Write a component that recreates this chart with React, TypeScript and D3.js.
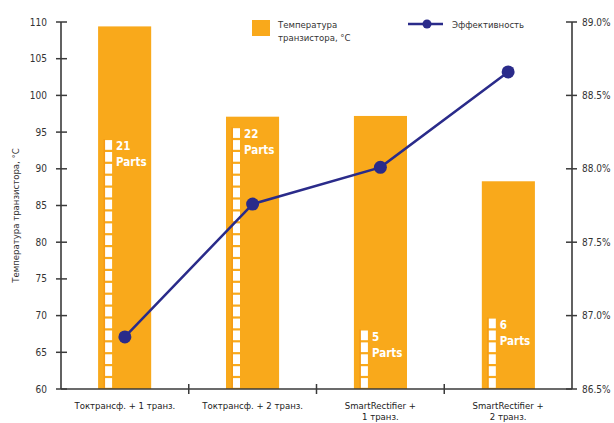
import React from "react";
import * as d3 from "d3";

const categories = [
  ["Токтрансф. + 1 транз."],
  ["Токтрансф. + 2 транз."],
  ["SmartRectifier +", "1 транз."],
  ["SmartRectifier +", "2 транз."],
];
const temperatures = [109.4, 97.1, 97.2, 88.3];
const efficiency = [86.855, 87.76, 88.01, 88.66];
const parts = [21, 22, 5, 6];
const leftTicks = [60, 65, 70, 75, 80, 85, 90, 95, 100, 105, 110];
const rightTicks = [86.5, 87.0, 87.5, 88.0, 88.5, 89.0];

const W = 614;
const H = 423;
const left = 61;
const right = 572;
const top = 22;
const bottom = 389;
const ORANGE = "#F9A91B";
const NAVY = "#2A2B8A";
const AXIS = "#3a3a3a";
const FONT = "'Liberation Sans Narrow', 'DejaVu Sans Condensed', 'Roboto Condensed', sans-serif";

export default function App() {
  const idx = categories.map((_, i) => String(i));
  const x = d3.scaleBand<string>().domain(idx).range([left, right]).paddingInner(0.585).paddingOuter(0.29);
  const band = d3.scaleBand<string>().domain(idx).range([left, right]);
  const yL = d3.scaleLinear().domain([60, 110]).range([bottom, top]);
  const yR = d3.scaleLinear().domain([86.5, 89.0]).range([bottom, top]);
  const partPx = 11.9;
  const line = d3
    .line<number>()
    .x((_, i) => (band(String(i)) as number) + band.bandwidth() / 2)
    .y((d) => yR(d));

  return (
    <svg width={W} height={H} style={{ position: "absolute", left: 0, top: 0, background: "#fff" }} fontFamily={FONT}>
      {/* bars */}
      {temperatures.map((t, i) => {
        const bx = x(String(i)) as number;
        const bw = x.bandwidth();
        const sx = bx + 7;
        const sw = 7;
        const stripH = parts[i] * partPx;
        const sTop = bottom - stripH;
        const squares = d3.range(parts[i]);
        return (
          <g key={i}>
            <rect x={bx} y={yL(t)} width={bw} height={bottom - yL(t)} fill={ORANGE} />
            <rect x={sx - 1.5} y={sTop} width={1.2} height={stripH} fill="#F08C10" opacity={0.6} />
            {squares.map((k) => (
              <rect key={k} x={sx} y={sTop + k * partPx + 1} width={sw} height={partPx - 2.2} fill="#fff" />
            ))}
            <text x={sx + sw + 4} y={sTop + 11} fill="#fff" fontSize={11.5} fontWeight="bold">
              {parts[i]}
            </text>
            <text x={sx + sw + 4} y={sTop + 27} fill="#fff" fontSize={11.5} fontWeight="bold">
              Parts
            </text>
          </g>
        );
      })}

      {/* left axis */}
      <line x1={left} x2={left} y1={top} y2={bottom} stroke={AXIS} strokeWidth={1.6} />
      {leftTicks.map((t) => (
        <g key={t}>
          <line x1={left - 5} x2={left + 6} y1={yL(t)} y2={yL(t)} stroke={AXIS} strokeWidth={1.5} />
          <text x={left - 14} y={yL(t) + 3.5} textAnchor="end" fontSize={10} fill="#333">
            {t}
          </text>
        </g>
      ))}
      <text
        transform={`translate(19,${(top + bottom) / 2 + 10}) rotate(-90)`}
        textAnchor="middle"
        fontSize={9.5}
        fill="#333"
      >
        Температура транзистора, °С
      </text>

      {/* right axis */}
      <line x1={right} x2={right} y1={top} y2={bottom} stroke={AXIS} strokeWidth={1.6} />
      {rightTicks.map((t) => (
        <g key={t}>
          <line x1={right - 6} x2={right + 5} y1={yR(t)} y2={yR(t)} stroke={AXIS} strokeWidth={1.5} />
          <text x={right + 10} y={yR(t) + 3.5} textAnchor="start" fontSize={10} fill="#333">
            {t.toFixed(1) + "%"}
          </text>
        </g>
      ))}

      {/* bottom axis */}
      <line x1={left} x2={right} y1={bottom} y2={bottom} stroke={AXIS} strokeWidth={1.6} />
      {idx.slice(1).map((k) => (
        <line
          key={k}
          x1={band(k) as number}
          x2={band(k) as number}
          y1={bottom - 5}
          y2={bottom + 5}
          stroke={AXIS}
          strokeWidth={1.5}
        />
      ))}
      {categories.map((c, i) => (
        <text
          key={i}
          x={(band(String(i)) as number) + band.bandwidth() / 2}
          y={409}
          textAnchor="middle"
          fontSize={9.5}
          fill="#222"
        >
          {c.map((ln, j) => (
            <tspan key={j} x={(band(String(i)) as number) + band.bandwidth() / 2} dy={j === 0 ? 0 : 11}>
              {ln}
            </tspan>
          ))}
        </text>
      ))}

      {/* efficiency line */}
      <path d={line(efficiency) || ""} fill="none" stroke={NAVY} strokeWidth={2.5} />
      {efficiency.map((e, i) => (
        <circle
          key={i}
          cx={(band(String(i)) as number) + band.bandwidth() / 2}
          cy={yR(e)}
          r={6.5}
          fill={NAVY}
        />
      ))}

      {/* legend */}
      <rect x={252} y={20} width={18} height={16} fill={ORANGE} />
      <text x={278} y={28} fontSize={9.5} fill="#333">
        Температура
      </text>
      <text x={278} y={41} fontSize={9.5} fill="#333">
        транзистора, °С
      </text>
      <line x1={408} x2={443} y1={24} y2={24} stroke={NAVY} strokeWidth={2.5} />
      <circle cx={427} cy={24} r={4.5} fill={NAVY} />
      <text x={452} y={28} fontSize={9.5} fill="#333">
        Эффективность
      </text>
    </svg>
  );
}
